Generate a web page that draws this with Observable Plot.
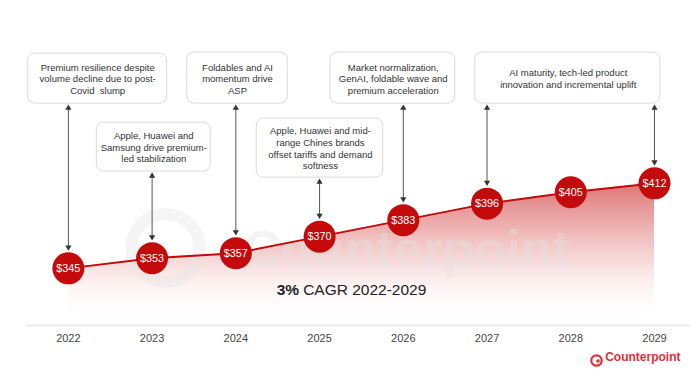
<!DOCTYPE html>
<html><head><meta charset="utf-8">
<script src="https://cdn.jsdelivr.net/npm/d3@7"></script>
<script src="https://cdn.jsdelivr.net/npm/@observablehq/plot@0.6"></script>
<style>body{margin:0;background:#fff}</style>
</head><body><div id="chart"></div>
<script>
// ---- data ----
const years = [2022, 2023, 2024, 2025, 2026, 2027, 2028, 2029];
const asp = [345, 353, 357, 370, 383, 396, 405, 412];
const priceLabels = asp.map(v => "$" + v);
const noteTexts = [
  "Premium resilience despite\nvolume decline due to post-\nCovid  slump",
  "Apple, Huawei and\nSamsung drive premium-\nled stabilization",
  "Foldables and AI\nmomentum drive\nASP",
  "Apple, Huawei and mid-\nrange Chines brands\noffset tariffs and demand\nsoftness",
  "Market normalization,\nGenAI, foldable wave and\npremium acceleration",
  "AI maturity, tech-led product\ninnovation and incremental uplift"
];
const noteYears = [[2022], [2023], [2024], [2025], [2026], [2027, 2029]];
const cagrBold = "3%";
const cagrRest = "CAGR 2022-2029";
const brand = "Counterpoint";

// ---- layout (annotation boxes, in scale units) ----
const baseline = 300;
const noteBoxes = [
  {x1: 2021.52, x2: 2023.18, y1: 474.8, y2: 514.2, cx: 2022.35, cy: 494.5},
  {x1: 2022.34, x2: 2023.70, y1: 421.3, y2: 459.8, cx: 2023.02, cy: 440.6},
  {x1: 2023.42, x2: 2024.62, y1: 474.8, y2: 515.0, cx: 2024.02, cy: 494.5},
  {x1: 2024.25, x2: 2025.76, y1: 416.5, y2: 463.0, cx: 2025.01, cy: 439.8},
  {x1: 2025.13, x2: 2026.62, y1: 474.8, y2: 515.0, cx: 2025.88, cy: 494.5},
  {x1: 2026.86, x2: 2029.07, y1: 474.8, y2: 515.0, cx: 2027.97, cy: 494.5}
];

const data = years.map((y, i) => ({year: y, value: asp[i], label: priceLabels[i]}));
const notes = noteTexts.map((t, i) => ({text: t, ...noteBoxes[i]}));
const valueOf = Object.fromEntries(years.map((y, i) => [y, asp[i]]));
const arrows = [];
noteYears.forEach((ys, i) => ys.forEach(y => arrows.push({x: y, top: noteBoxes[i].y1 - 2.3, bot: valueOf[y] + 15.5})));

const red = "#c40a0a";
const font = "'Liberation Sans', Arial, sans-serif";

const plot = Plot.plot({
  width: 693, height: 384,
  marginLeft: 26, marginRight: 3, marginTop: 0, marginBottom: 59,
  x: {type: "linear", domain: [2021.5, 2029.43]},
  y: {domain: [baseline, 556], axis: null},
  style: {fontFamily: font, background: "#fff", overflow: "visible"},
  marks: [
    Plot.areaY(data, {x: "year", y: "value", y1: baseline, fill: "url(#areaGrad)"}),
    Plot.ruleY([baseline], {stroke: "#e6e6e6", strokeWidth: 1.5}),
    Plot.axisX(years, {tickSize: 0, tickPadding: 9, tickFormat: d => String(d), fontSize: 11, color: "#444"}),
    // watermark
    Plot.dot([brand], {x: () => 2023.16, y: () => 361, r: 34, stroke: "#e6e6e6", strokeWidth: 12, fill: "none", strokeOpacity: 0.4}),
    Plot.text([brand], {x: () => 2026.04, y: () => 359, text: d => d, fontSize: 52, fontWeight: "bold", fill: "#e2e2e2", fillOpacity: 0.38}),
    Plot.line(data, {x: "year", y: "value", stroke: red, strokeWidth: 2}),
    // notes
    Plot.rect(notes, {x1: "x1", x2: "x2", y1: "y1", y2: "y2", fill: "#fff", stroke: "#d9d9d9", strokeWidth: 1, rx: 7}),
    Plot.text(notes, {x: "cx", y: "cy", text: "text", fontSize: 9.5, lineHeight: 1.22, fill: "#333"}),
    Plot.link(arrows, {x1: "x", x2: "x", y1: "top", y2: "bot", stroke: "#555", strokeWidth: 1}),
    Plot.dot(arrows, {x: "x", y: "top", symbol: "triangle", r: 2.3, fill: "#333", dy: 1.5}),
    Plot.dot(arrows, {x: "x", y: "bot", symbol: "triangle", r: 2.3, fill: "#333", rotate: 180, dy: -1.5}),
    // points
    Plot.dot(data, {x: "year", y: "value", r: 16, fill: red}),
    Plot.text(data, {x: "year", y: "value", text: "label", fill: "#fff", fontSize: 10.8}),
    // CAGR
    Plot.text([cagrBold], {x: () => 2024.78, y: () => 328.3, text: d => d, textAnchor: "end", dx: -2, fontSize: 15.5, fontWeight: "bold", fill: "#222"}),
    Plot.text([cagrRest], {x: () => 2024.78, y: () => 328.3, text: d => d, textAnchor: "start", dx: 2, fontSize: 15.5, fill: "#222"}),
    // brand logo
    Plot.text([brand], {frameAnchor: "bottom-right", text: d => d, textAnchor: "end", dx: -10, dy: 35, fontSize: 12, fontWeight: "bold", fill: "#e0303a"}),
    Plot.dot([brand], {frameAnchor: "bottom-right", dx: -94, dy: 35, r: 5.2, stroke: "#e0303a", strokeWidth: 2.2, fill: "none"}),
    Plot.dot([brand], {frameAnchor: "bottom-right", dx: -92.5, dy: 35.5, r: 1.8, fill: "#e0303a"})
  ]
});

const ys = plot.scale("y");
const defs = d3.select(plot).insert("defs", ":first-child");
const g = defs.append("linearGradient").attr("id", "areaGrad").attr("gradientUnits", "userSpaceOnUse")
  .attr("x1", 0).attr("x2", 0).attr("y1", ys.apply(412)).attr("y2", ys.apply(baseline) - 4);
g.append("stop").attr("offset", 0).attr("stop-color", "#c81e1e").attr("stop-opacity", 0.62);
g.append("stop").attr("offset", 0.55).attr("stop-color", "#d84a4a").attr("stop-opacity", 0.22);
g.append("stop").attr("offset", 1).attr("stop-color", "#ffffff").attr("stop-opacity", 0);

document.getElementById("chart").append(plot);
</script>
</body></html>
